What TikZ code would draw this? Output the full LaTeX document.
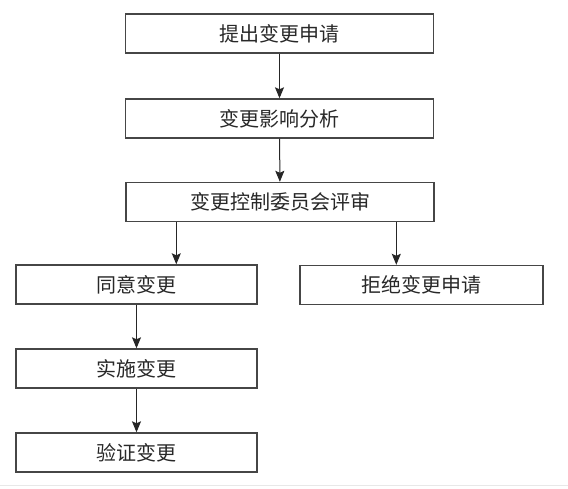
\documentclass[tikz,border=0pt]{standalone}
\usepackage{fontspec}
\newfontfamily\cjk{Noto Sans CJK SC}
\usepackage{tikz}
\usetikzlibrary{arrows.meta,positioning}
\definecolor{boxline}{RGB}{70,70,70}
\definecolor{boxtext}{RGB}{40,40,40}
\definecolor{rule}{RGB}{232,232,232}

\begin{document}
\begin{tikzpicture}[x=1pt,y=-1pt,>={Stealth[length=11pt,width=9pt,inset=2pt]},
    stepbox/.style={draw=boxline,line width=1.4pt,fill=white,inner sep=0pt,
      minimum height=39pt,font=\cjk\fontsize{20}{20}\selectfont,text=boxtext},
    wide/.style={stepbox,minimum width=308pt},
    half/.style={stepbox,minimum width=241pt},
    flow/.style={->,line width=1pt,black!85}]
  \useasboundingbox (0,0) rectangle (568,488);
  \draw[rule,line width=1pt] (0,485) -- (568,485);
  \node[wide] (submit) at (279.5,33.5) {提出变更申请};
  \node[wide] (impact) at (279.5,118.5) {变更影响分析};
  \node[wide] (review) at (280,202) {变更控制委员会评审};
  \node[half] (agree) at (136.5,284.5) {同意变更};
  \node[half,minimum width=243pt] (reject) at (421.5,285) {拒绝变更申请};
  \node[half] (apply) at (136.5,368.5) {实施变更};
  \node[half] (verify) at (136.5,452.5) {验证变更};
  \draw[flow] (submit) -- (impact);
  \draw[flow] (impact) -- (review);
  \draw[flow] ([xshift=51pt]review.south west) -- ([xshift=161pt]agree.north west);
  \draw[flow] ([xshift=271pt]review.south west) -- ([xshift=97pt]reject.north west);
  \draw[flow] (agree) -- (apply);
  \draw[flow] (apply) -- (verify);
\end{tikzpicture}
\end{document}
